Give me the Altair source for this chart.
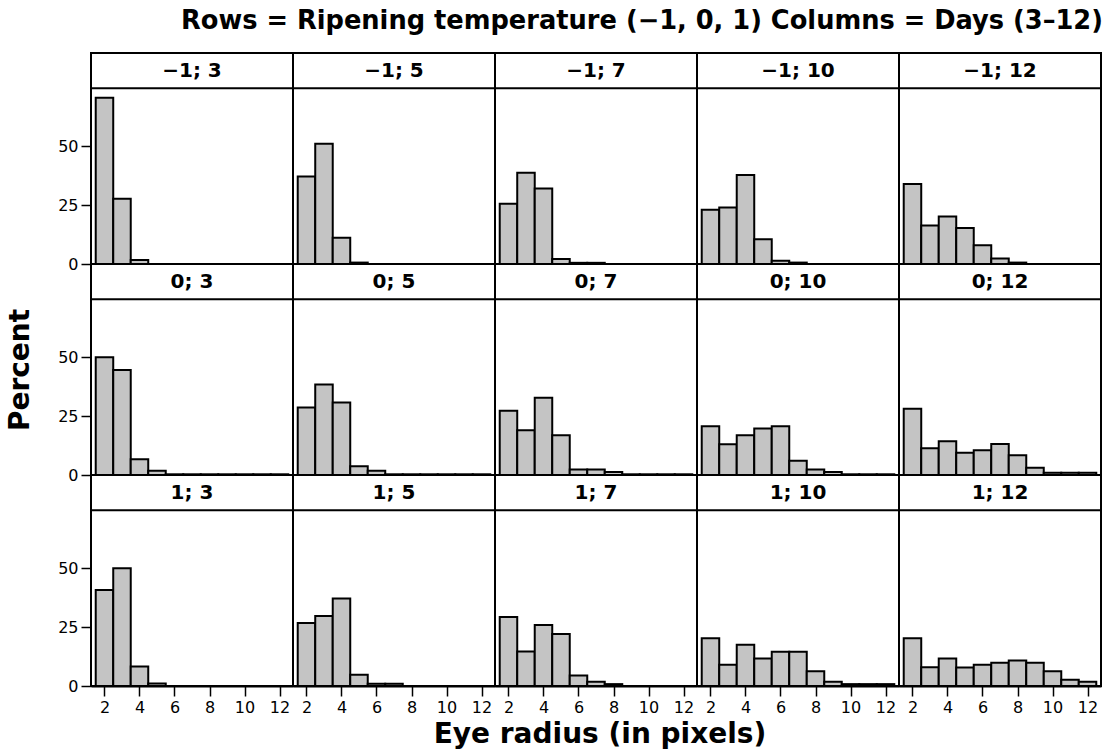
import altair as alt
import pandas as pd

# Facet levels
temps = [-1, 0, 1]
days = [3, 5, 7, 10, 12]
radii = [2, 3, 4, 5, 6, 7, 8, 9, 10, 11, 12]

# Percent of eyes per radius bin (radius 2..12), one list per panel
pct_m1_d3 = [70.6, 27.7, 1.7, 0, 0, 0, 0, 0, 0, 0, 0]
pct_m1_d5 = [37.2, 51.1, 11.1, 0.6, 0, 0, 0, 0, 0, 0, 0]
pct_m1_d7 = [25.6, 38.8, 32.1, 2.1, 0.5, 0.5, 0, 0, 0, 0, 0]
pct_m1_d10 = [23.0, 24.0, 37.8, 10.5, 1.4, 0.6, 0, 0, 0, 0, 0]
pct_m1_d12 = [34.0, 16.3, 20.2, 15.3, 8.0, 2.3, 0.6, 0, 0, 0, 0]

pct_0_d3 = [50.0, 44.6, 6.7, 1.8, 0.3, 0.3, 0.3, 0.3, 0.3, 0.3, 0.3]
pct_0_d5 = [28.7, 38.4, 30.8, 3.7, 1.8, 0.3, 0.3, 0.3, 0.3, 0.3, 0.3]
pct_0_d7 = [27.3, 19.0, 32.8, 16.9, 2.3, 2.3, 1.3, 0.3, 0.3, 0.3, 0.3]
pct_0_d10 = [20.7, 13.1, 16.9, 19.7, 20.7, 6.1, 2.3, 1.3, 0.3, 0.3, 0.3]
pct_0_d12 = [28.1, 11.4, 14.3, 9.4, 10.5, 13.2, 8.4, 3.1, 1.0, 1.0, 1.0]

pct_p1_d3 = [40.8, 50.0, 8.3, 1.1, 0, 0, 0, 0, 0, 0, 0]
pct_p1_d5 = [26.8, 29.7, 37.2, 4.8, 1.0, 1.0, 0, 0, 0, 0, 0]
pct_p1_d7 = [29.3, 14.6, 25.9, 22.1, 4.5, 1.8, 0.8, 0, 0, 0, 0]
pct_p1_d10 = [20.3, 9.0, 17.5, 11.7, 14.5, 14.5, 6.3, 1.8, 0.8, 0.8, 0.8]
pct_p1_d12 = [20.3, 8.0, 11.7, 7.9, 9.0, 9.9, 10.8, 9.9, 6.3, 2.7, 1.8]

panels = {
    (-1, 3): pct_m1_d3, (-1, 5): pct_m1_d5, (-1, 7): pct_m1_d7,
    (-1, 10): pct_m1_d10, (-1, 12): pct_m1_d12,
    (0, 3): pct_0_d3, (0, 5): pct_0_d5, (0, 7): pct_0_d7,
    (0, 10): pct_0_d10, (0, 12): pct_0_d12,
    (1, 3): pct_p1_d3, (1, 5): pct_p1_d5, (1, 7): pct_p1_d7,
    (1, 10): pct_p1_d10, (1, 12): pct_p1_d12,
}

rows = []
for (t, d), values in panels.items():
    tlabel = ("\u2212" + str(abs(t))) if t < 0 else str(t)
    for r, p in zip(radii, values):
        rows.append({"temp": t, "day": d, "radius": r, "percent": p,
                     "label": f"{tlabel}; {d}"})
df = pd.DataFrame(rows)

PANEL_W = 202
PANEL_H = 211
Y_TOP = 89.6      # top of the panel including the label strip
STRIP_Y = 74.6    # bottom edge of the label strip
FONT = "DejaVu Sans"

x_scale = alt.Scale(domain=[1.23, 12.77], nice=False, zero=False)
y_scale = alt.Scale(domain=[0, Y_TOP], nice=False)

axis_style = dict(labelFont=FONT, labelFontSize=16, labelColor="black",
                  tickColor="black", tickSize=10, tickWidth=1.5,
                  grid=False, labelPadding=3, title=None)

bars = (
    alt.Chart()
    .transform_filter("datum.percent > 0")
    .transform_calculate(lo="datum.radius - 0.5", hi="datum.radius + 0.5")
    .mark_rect(fill="#c4c4c4", stroke="black", strokeWidth=2)
    .encode(
        x=alt.X("lo:Q", scale=x_scale,
                axis=alt.Axis(values=[2, 4, 6, 8, 10, 12], labelFlush=False,
                              domainColor="black", domainWidth=2,
                              **axis_style)),
        x2="hi:Q",
        y=alt.Y("percent:Q", scale=y_scale,
                axis=alt.Axis(values=[0, 25, 50], domain=False,
                              **axis_style)),
        y2=alt.datum(0),
    )
)

strip_line = (
    alt.Chart()
    .transform_filter("datum.radius == 2")
    .mark_rule(color="black", strokeWidth=2)
    .encode(y=alt.datum(STRIP_Y), x=alt.value(0), x2=alt.value(PANEL_W))
)

strip_text = (
    alt.Chart()
    .transform_filter("datum.radius == 2")
    .mark_text(font=FONT, fontSize=20, fontWeight="bold", color="black",
               baseline="middle", align="center")
    .encode(text="label:N", x=alt.value(PANEL_W / 2),
            y=alt.datum((STRIP_Y + Y_TOP) / 2))
)

chart = (
    alt.layer(bars, strip_line, strip_text, data=df)
    .properties(width=PANEL_W, height=PANEL_H)
    .facet(
        row=alt.Row("temp:O", sort=temps,
                    header=alt.Header(labels=False, title="Percent",
                                      titleFont=FONT, titleFontSize=28,
                                      titleFontWeight="bold",
                                      titleColor="black", titlePadding=12)),
        column=alt.Column("day:O", sort=days,
                          header=alt.Header(
                              labels=False,
                              title="Rows = Ripening temperature (\u22121, 0, 1) Columns = Days (3\u201312)",
                              titleFont=FONT, titleFontSize=25.7,
                              titleFontWeight="bold", titleColor="black",
                              titleAnchor="end", titlePadding=8)),
        spacing=0,
        bounds="flush",
    )
    .properties(
        title=alt.TitleParams("Eye radius (in pixels)", orient="bottom",
                              anchor="middle", font=FONT, fontSize=28,
                              fontWeight="bold", color="black", offset=6,
                              dx=45),
        padding={"left": 6, "top": 8, "right": 5, "bottom": 0},
    )
    .configure_view(stroke="black", strokeWidth=2)
)

chart.save("out.html", embed_options={"renderer": "svg", "actions": False})
